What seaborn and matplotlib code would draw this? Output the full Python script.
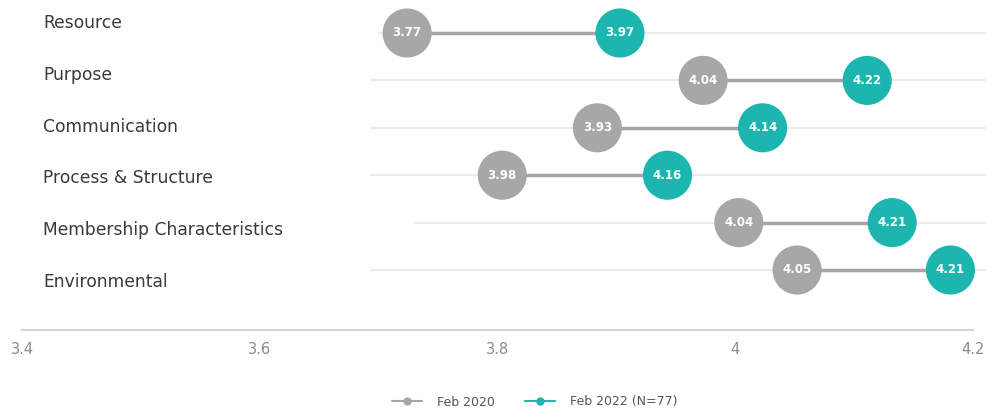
import pandas as pd
import matplotlib
matplotlib.use('Agg')
import matplotlib.pyplot as plt
from matplotlib.lines import Line2D
import seaborn as sns

# Werte aus dem Bild
categories = ['Resource', 'Purpose', 'Communication', 'Process & Structure',
              'Membership Characteristics', 'Environmental']
# gedruckte Werte in den Kreisen
labels_2020 = ['3.77', '4.04', '3.93', '3.98', '4.04', '4.05']
labels_2022 = ['3.97', '4.22', '4.14', '4.16', '4.21', '4.21']
# Lage der Kreise auf der x-Achse (so wie im Bild gezeichnet)
pos_2020 = [3.724, 3.973, 3.884, 3.804, 4.003, 4.052]
pos_2022 = [3.903, 4.111, 4.023, 3.943, 4.132, 4.181]
# Beginn der hellen Gitterlinien je Zeile
grid_start = [3.70, 3.694, 3.694, 3.694, 3.731, 3.694]

series = ['Feb 2020', 'Feb 2022 (N=77)']
grey = '#A7A7A7'
teal = '#1DB5AF'

sns.set_style('white')
plt.rcParams['font.family'] = ['DejaVu Sans']

df = pd.DataFrame({
    'row': list(range(len(categories))) * 2,
    'value': pos_2020 + pos_2022,
    'label': labels_2020 + labels_2022,
    'series': [series[0]] * len(categories) + [series[1]] * len(categories),
})

W, H = 987, 413
fig = plt.figure(figsize=(W / 100, H / 100), dpi=100)
ax = fig.add_axes([22 / W, (H - 330) / H, (973 - 22) / W, (330 - 9.3) / H])

rows = list(range(len(categories)))

# Gitterlinien
for r, xs in zip(rows, grid_start):
    ax.plot([xs, 4.215], [r, r], color='#EBEBEB', lw=1.5, zorder=1, clip_on=False)

# Verbindungslinien
ax.hlines(rows, pos_2020, pos_2022, color='#A5A5A5', lw=2.5, zorder=2)

sns.scatterplot(data=df, x='value', y='row', hue='series', palette=[grey, teal],
                s=1250, linewidth=0, legend=False, zorder=3, ax=ax, clip_on=False)

for _, rec in df.iterrows():
    ax.text(rec['value'], rec['row'], rec['label'], ha='center', va='center',
            color='white', fontsize=8.5, fontweight='bold', zorder=4)

ax.set_xlim(3.4, 4.2)
ax.set_ylim(6.266, -0.5)
ax.set_xticks([3.4, 3.6, 3.8, 4.0, 4.2])
ax.set_xticklabels(['3.4', '3.6', '3.8', '4', '4.2'])
ax.tick_params(axis='x', colors='#8A8A8A', labelsize=10.5, length=0, pad=9)
ax.set_yticks([])
ax.set_xlabel('')
ax.set_ylabel('')
for s in ['top', 'right', 'left']:
    ax.spines[s].set_visible(False)
ax.spines['bottom'].set_color('#D4D4D4')
ax.spines['bottom'].set_linewidth(1.5)

# Kategorienamen links
for i, name in enumerate(categories):
    y_px = 23 + 51.8 * i
    fig.text(43 / W, 1 - y_px / H, name, ha='left', va='center',
             fontsize=12.3, color='#3A3A3A')

handles = [Line2D([0], [0], color=grey, lw=1.5, marker='o', markersize=5),
           Line2D([0], [0], color=teal, lw=1.5, marker='o', markersize=5)]
fig.legend(handles, series, loc='center', bbox_to_anchor=(535 / W, (H - 402) / H),
           ncol=2, frameon=False, fontsize=9, handlelength=2.4, handletextpad=1.2,
           columnspacing=2.4, labelcolor='#555555')

fig.savefig('out.png', dpi=100)
